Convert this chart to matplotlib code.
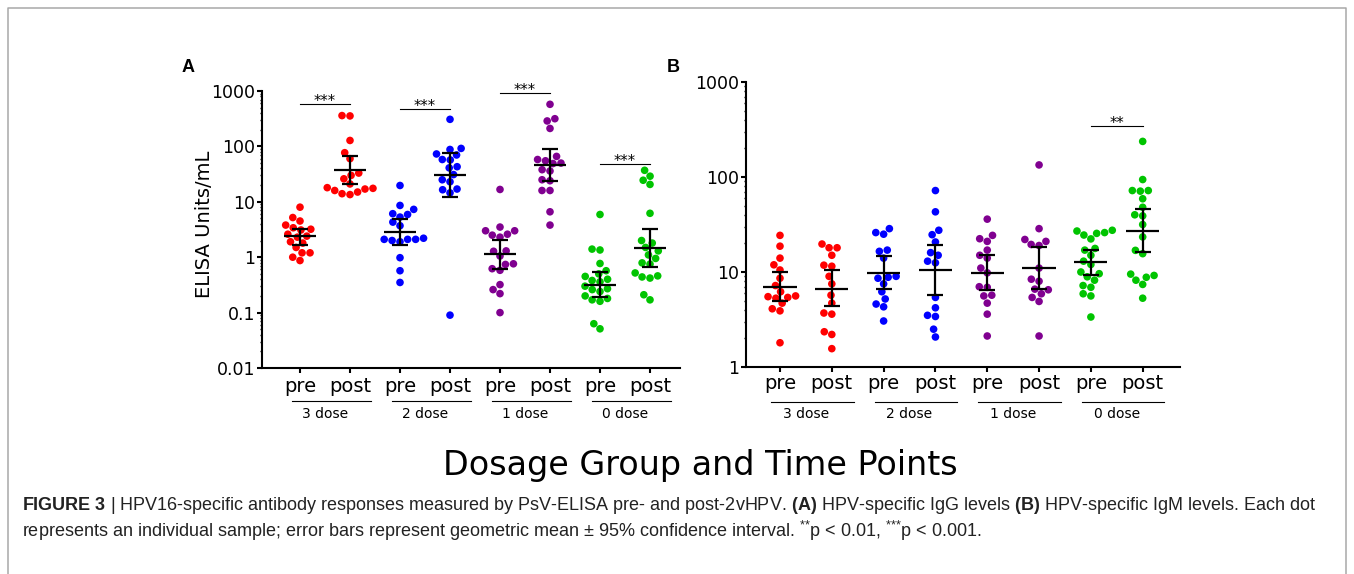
import numpy as np
import matplotlib
matplotlib.use('Agg')
import matplotlib.pyplot as plt
import matplotlib.transforms as mtransforms
from matplotlib.ticker import FixedLocator, LogLocator, NullFormatter
from matplotlib.lines import Line2D

plt.rcParams['mathtext.fontset'] = 'custom'
plt.rcParams['mathtext.rm'] = 'Liberation Sans'
plt.rcParams['mathtext.bf'] = 'Liberation Sans:bold'
plt.rcParams['mathtext.it'] = 'Liberation Sans:italic'

# ---- data ----
doses = ['3 dose', '2 dose', '1 dose', '0 dose']
times = ['pre', 'post']
group_colors = ['#ff0000', '#0000ff', '#800090', '#00c400']

# A: IgG
igg_3_pre = [8.0, 5.2, 4.5, 3.8, 3.4, 3.2, 3.1, 2.6, 2.4, 2.3, 1.9, 1.8, 1.5, 1.2, 1.2, 1.0, 0.87]
igg_3_post = [360, 355, 128, 77, 60, 33, 30, 26, 21, 18, 17.5, 17, 16, 15, 14, 13.5]
igg_2_pre = [19.7, 8.6, 7.3, 6.1, 5.9, 5.3, 4.3, 3.7, 2.2, 2.1, 2.1, 2.1, 2.0, 1.9, 0.98, 0.57, 0.35]
igg_2_post = [308, 92, 88, 73, 70, 58, 57, 43, 41, 31, 25, 23, 17, 16.5, 14.5, 0.09]
igg_1_pre = [16.7, 3.5, 3.0, 3.0, 2.6, 2.5, 2.3, 1.3, 1.28, 1.05, 0.76, 0.74, 0.62, 0.58, 0.32, 0.26, 0.22, 0.1]
igg_1_post = [575, 316, 288, 211, 66, 58, 55, 50, 49, 38, 36, 25, 24, 16, 16, 6.6, 3.8]
igg_0_pre = [5.9, 1.4, 1.35, 0.77, 0.57, 0.5, 0.45, 0.4, 0.38, 0.36, 0.3, 0.27, 0.26, 0.24, 0.2, 0.18, 0.17, 0.16, 0.063, 0.051]
igg_0_post = [37, 29, 24.5, 20.6, 6.2, 2.0, 1.8, 1.5, 1.3, 1.1, 0.95, 0.79, 0.75, 0.52, 0.46, 0.44, 0.42, 0.21, 0.17]
igg_gm = [2.4, 37, 2.8, 31, 1.12, 46, 0.31, 1.48]
igg_lo = [1.65, 21, 1.63, 12.3, 0.6, 24, 0.19, 0.67]
igg_hi = [3.2, 66, 4.8, 77, 2.03, 91, 0.54, 3.25]
igg_sig = [(0, 1, 575, '***'), (2, 3, 480, '***'), (4, 5, 910, '***'), (6, 7, 49, '***')]

# B: IgM
igm_3_pre = [24.3, 18.7, 14, 11.9, 10.5, 8.6, 7.2, 6.2, 5.6, 5.5, 5.4, 5.3, 4.7, 4.1, 3.9, 1.8]
igm_3_post = [19.7, 18, 18, 15, 11.8, 11.5, 9, 7.5, 5.7, 4.7, 3.7, 3.6, 2.35, 2.2, 1.56]
igm_2_pre = [28.6, 26, 25, 17, 16.5, 14, 9, 8.8, 8.6, 7.5, 6.2, 5.2, 4.6, 4.3, 3.05]
igm_2_post = [72, 43, 27.5, 24.7, 20.7, 16, 15, 13, 12.5, 5.4, 4.2, 3.5, 3.4, 2.5, 2.07]
igm_1_pre = [36, 24.3, 22.4, 21, 17, 15, 14, 11, 9.8, 7, 6.9, 5.7, 5.6, 4.7, 3.6, 2.12]
igm_1_post = [134, 28.6, 22, 21, 19.5, 19, 11, 8.4, 8.0, 6.6, 6.5, 5.9, 5.4, 4.9, 2.12]
igm_0_pre = [27.5, 27, 26, 25.5, 24.5, 22.3, 17.7, 17, 15, 13, 12, 10, 9.6, 8.9, 8.2, 7.2, 6.9, 5.9, 5.6, 3.36]
igm_0_post = [237, 94, 72, 72, 71, 59, 48, 40, 39, 31.6, 23.4, 16.9, 15.6, 9.5, 9.2, 8.8, 8.2, 7.4, 5.3]
igm_gm = [6.95, 6.7, 9.85, 10.6, 9.8, 11.1, 12.6, 27]
igm_lo = [4.9, 4.37, 6.6, 5.76, 6.5, 6.6, 9.2, 16.2]
igm_hi = [9.9, 10.4, 14.6, 19.4, 15, 18.3, 17.2, 45.7]
igm_sig = [(6, 7, 344, '**')]

igg = [igg_3_pre, igg_3_post, igg_2_pre, igg_2_post, igg_1_pre, igg_1_post, igg_0_pre, igg_0_post]
igm = [igm_3_pre, igm_3_post, igm_2_pre, igm_2_post, igm_1_pre, igm_1_post, igm_0_pre, igm_0_post]

W, H = 1354, 574
fig = plt.figure(figsize=(W / 100, H / 100), dpi=100)

# figure frame (open at the bottom)
fig.add_artist(Line2D([8 / W, 8 / W, 1346 / W, 1346 / W], [0, 1 - 8 / H, 1 - 8 / H, 0],
                      transform=fig.transFigure, color='#a8a8a8', lw=1.1))


def swarm(ypix, d):
    # simple beeswarm in pixel space
    xs = np.zeros(len(ypix))
    px, py = [], []
    for i in np.argsort(ypix):
        y = ypix[i]
        cands = [0.0]
        for a, b in zip(px, py):
            dy = abs(b - y)
            if dy < d:
                dx = np.sqrt(d * d - dy * dy)
                cands += [a - dx, a + dx]
        cands.sort(key=lambda c: (abs(c), c))
        for c in cands:
            if all((c - a) ** 2 + (y - b) ** 2 >= d * d - 1e-6 for a, b in zip(px, py)):
                break
        xs[i] = c
        px.append(c)
        py.append(y)
    return xs


def panel(ax, data, gm, lo, hi, sig, ylim, yticks, ylabels, xlim, xpad, line_y, dose_y):
    ax.set_yscale('log')
    ax.set_ylim(*ylim)
    ax.set_xlim(*xlim)
    ax.spines[['top', 'right']].set_visible(False)
    ax.spines['left'].set_linewidth(1.5)
    ax.spines['bottom'].set_linewidth(1.5)
    ax.yaxis.set_major_locator(FixedLocator(yticks))
    ax.set_yticklabels(ylabels, fontsize=12.5)
    ax.yaxis.set_minor_locator(LogLocator(base=10, subs=np.arange(2, 10), numticks=20))
    ax.yaxis.set_minor_formatter(NullFormatter())
    ax.tick_params(axis='y', which='major', length=3.6, width=1.5, pad=1)
    ax.tick_params(axis='y', which='minor', length=1.8, width=1.0)
    ax.set_xticks(range(8))
    ax.set_xticklabels(times * 4, fontsize=14)
    ax.tick_params(axis='x', length=3.6, width=1.5, pad=xpad)

    unit = ax.transData.transform([(1, 1)])[0][0] - ax.transData.transform([(0, 1)])[0][0]
    for i, vals in enumerate(data):
        vals = np.array(vals)
        ypix = ax.transData.transform(np.column_stack([np.full(len(vals), i), vals]))[:, 1]
        off = swarm(ypix, 8.0) / unit
        ax.scatter(i + off, vals, s=30, color=group_colors[i // 2], edgecolors='none', zorder=2)

    x = np.arange(8)
    gm = np.array(gm)
    ax.errorbar(x, gm, yerr=[gm - np.array(lo), np.array(hi) - gm], fmt='none', ecolor='black',
                elinewidth=1.6, capsize=5.8, capthick=1.6, zorder=3)
    ax.hlines(gm, x - 0.32, x + 0.32, color='black', lw=1.6, zorder=3)

    for a, b, yv, stars in sig:
        ax.plot([a, b], [yv, yv], color='black', lw=0.8)
        ax.annotate(stars, xy=((a + b) / 2, yv), xytext=(0, -1.5), textcoords='offset points',
                    ha='center', va='baseline', fontsize=10.5)

    trans = mtransforms.blended_transform_factory(ax.transData, ax.transAxes)
    for k, name in enumerate(doses):
        ax.plot([2 * k - 0.17, 2 * k + 1.42], [line_y, line_y], transform=trans, color='black',
                lw=0.8, clip_on=False)
        ax.text(2 * k + 0.5, dose_y, name, transform=trans, ha='center', va='center', fontsize=10)


axA = fig.add_axes([262 / W, 1 - 368 / H, 418 / W, 277 / H])
panel(axA, igg, igg_gm, igg_lo, igg_hi, igg_sig, (0.01, 1000),
      [0.01, 0.1, 1, 10, 100, 1000], ['0.01', '0.1', '1', '10', '100', '1000'],
      (-0.76, 7.6), 3, -0.119, -0.166)

axB = fig.add_axes([746 / W, 1 - 367 / H, 434 / W, 285 / H])
panel(axB, igm, igm_gm, igm_lo, igm_hi, igm_sig, (1, 1000),
      [1, 10, 100, 1000], ['1', '10', '100', '1000'],
      (-0.656, 7.72), 1.5, -0.123, -0.165)

fig.text(205 / W, 1 - 224 / H, 'ELISA Units/mL', rotation=90, ha='center', va='center', fontsize=14)
fig.text(188 / W, 1 - 67 / H, 'A', ha='center', va='center', fontsize=13, fontweight='bold',
         family='Liberation Sans')
fig.text(673 / W, 1 - 67 / H, 'B', ha='center', va='center', fontsize=13, fontweight='bold',
         family='Liberation Sans')
fig.text(700 / W, 1 - 465 / H, 'Dosage Group and Time Points', ha='center', va='center', fontsize=24)

cap1 = (r'$\mathbf{FIGURE\ 3}$ | HPV16-specific antibody responses measured by PsV-ELISA pre- and '
        r'post-2vHPV. $\mathbf{(A)}$ HPV-specific IgG levels $\mathbf{(B)}$ HPV-specific IgM levels. Each dot')
cap2 = (r'represents an individual sample; error bars represent geometric mean ± 95% confidence '
        r'interval. $^{*{*}}$p < 0.01, $^{*{*}{*}}$p < 0.001.')
fig.text(22 / W, 1 - 506 / H, cap1, ha='left', va='center', fontsize=13, color='#222222',
         family='Liberation Sans')
fig.text(22 / W, 1 - 531 / H, cap2, ha='left', va='center', fontsize=13, color='#222222',
         family='Liberation Sans')

fig.savefig('out.png', dpi=100)
